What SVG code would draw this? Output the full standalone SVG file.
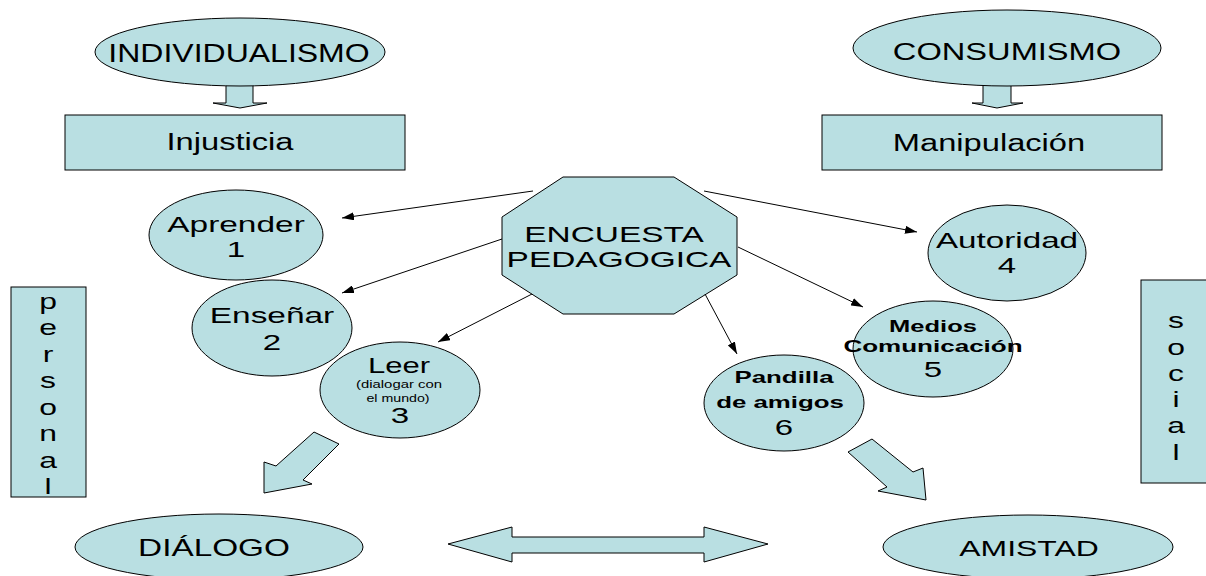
<svg xmlns="http://www.w3.org/2000/svg" width="1206" height="576" viewBox="0 0 1206 576">
<defs>
<style>
.s{fill:#B9DFE2;stroke:#000;stroke-width:1}
.t{font-family:"Liberation Sans",Arial,sans-serif;fill:#000;text-anchor:middle}
.b{font-weight:bold}
.c{stroke:#000;stroke-width:1;fill:none;marker-end:url(#ah)}
</style>
<marker id="ah" markerUnits="userSpaceOnUse" markerWidth="12" markerHeight="8" refX="12" refY="4" orient="auto">
<path d="M0,0 L12,4 L0,8 z" fill="#000"/>
</marker>
</defs>
<rect width="1206" height="576" fill="#fff"/>

<g id="arrow-individualismo"><polygon class="s" points="226,80 253,80 253,103 267,103 240,108 213,103 226,103"/></g>
<g id="arrow-consumismo"><polygon class="s" points="983,80 1011,80 1011,103 1023,103 997,108 972,103 983,103"/></g>

<g id="individualismo">
<ellipse class="s" cx="240" cy="52" rx="145" ry="34"/>
<text class="t" font-size="25" transform="translate(239,62) scale(1.28,1)">INDIVIDUALISMO</text>
</g>
<g id="consumismo">
<ellipse class="s" cx="1007" cy="48" rx="154" ry="38"/>
<text class="t" font-size="24" transform="translate(1007,60) scale(1.36,1)">CONSUMISMO</text>
</g>
<g id="injusticia">
<rect class="s" x="65" y="115" width="340" height="55"/>
<text class="t" font-size="23" transform="translate(230,150) scale(1.42,1)">Injusticia</text>
</g>
<g id="manipulacion">
<rect class="s" x="822" y="115" width="340" height="55"/>
<text class="t" font-size="23" transform="translate(989,151) scale(1.42,1)">Manipulación</text>
</g>

<g id="encuesta">
<polygon class="s" points="563,177 674,177 737,217 737,275 674,314 563,314 502,275 502,217"/>
<text class="t" font-size="22" transform="translate(614,242) scale(1.52,1)">ENCUESTA</text>
<text class="t" font-size="22" transform="translate(619,267) scale(1.52,1)">PEDAGOGICA</text>
</g>

<g id="aprender">
<ellipse class="s" cx="236" cy="235" rx="87" ry="45"/>
<text class="t" font-size="22" transform="translate(236,232) scale(1.52,1)">Aprender</text>
<text class="t" font-size="22" transform="translate(236,257) scale(1.5,1)">1</text>
</g>
<g id="ensenar">
<ellipse class="s" cx="272" cy="328" rx="80" ry="48"/>
<text class="t" font-size="22" transform="translate(272,323) scale(1.52,1)">Enseñar</text>
<text class="t" font-size="22" transform="translate(272,350) scale(1.5,1)">2</text>
</g>
<g id="leer">
<ellipse class="s" cx="400" cy="390" rx="80" ry="48"/>
<text class="t" font-size="22" transform="translate(399,373) scale(1.41,1)">Leer</text>
<text class="t" font-size="10" transform="translate(399,388) scale(1.49,1)">(dialogar con</text>
<text class="t" font-size="10" transform="translate(398,402) scale(1.42,1)">el mundo)</text>
<text class="t" font-size="22" transform="translate(400,423) scale(1.5,1)">3</text>
</g>
<g id="autoridad">
<ellipse class="s" cx="1007" cy="253" rx="79" ry="48"/>
<text class="t" font-size="22" transform="translate(1007,248) scale(1.51,1)">Autoridad</text>
<text class="t" font-size="22" transform="translate(1007,273) scale(1.5,1)">4</text>
</g>
<g id="medios">
<ellipse class="s" cx="933" cy="349" rx="80" ry="48"/>
<text class="t b" font-size="17" transform="translate(933,332) scale(1.5,1)">Medios</text>
<text class="t b" font-size="17" transform="translate(933,352) scale(1.53,1)">Comunicación</text>
<text class="t" font-size="22" transform="translate(933,377) scale(1.5,1)">5</text>
</g>
<g id="pandilla">
<ellipse class="s" cx="784" cy="403" rx="80" ry="48"/>
<text class="t b" font-size="17" transform="translate(784,383) scale(1.52,1)">Pandilla</text>
<text class="t b" font-size="17" transform="translate(780,408) scale(1.52,1)">de amigos</text>
<text class="t" font-size="22" transform="translate(784,435) scale(1.5,1)">6</text>
</g>

<g id="personal">
<rect class="s" x="11" y="287" width="75" height="210"/>
<g class="t" font-size="22">
<text transform="translate(48,309) scale(1.45,1)">p</text>
<text transform="translate(48,335) scale(1.45,1)">e</text>
<text transform="translate(48,362) scale(1.45,1)">r</text>
<text transform="translate(48,388) scale(1.45,1)">s</text>
<text transform="translate(48,415) scale(1.45,1)">o</text>
<text transform="translate(48,441) scale(1.45,1)">n</text>
<text transform="translate(48,468) scale(1.45,1)">a</text>
<text transform="translate(48,494) scale(1.45,1)">l</text>
</g>
</g>
<g id="social">
<rect class="s" x="1141" y="280" width="75" height="203"/>
<g class="t" font-size="22">
<text transform="translate(1176,328) scale(1.45,1)">s</text>
<text transform="translate(1176,355) scale(1.45,1)">o</text>
<text transform="translate(1176,381) scale(1.45,1)">c</text>
<text transform="translate(1176,407) scale(1.45,1)">i</text>
<text transform="translate(1176,433) scale(1.45,1)">a</text>
<text transform="translate(1176,460) scale(1.45,1)">l</text>
</g>
</g>

<g id="arrow-leer-dialogo"><polygon class="s" points="314,432 339,444 303,480 312,484 264,493 264,462 276,466"/></g>
<g id="arrow-pandilla-amistad"><polygon class="s" points="848,452 872,439 913,472 923,468 926,500 878,491 887,487"/></g>
<g id="arrow-double"><polygon class="s" points="448,544 512,527 512,537 704,537 704,527 768,544 704,562 704,553 512,553 512,562"/></g>

<g id="dialogo">
<ellipse class="s" cx="219" cy="547" rx="144" ry="33"/>
<text class="t" font-size="23" transform="translate(214,556) scale(1.45,1)">DIÁLOGO</text>
</g>
<g id="amistad">
<ellipse class="s" cx="1028" cy="547" rx="145" ry="32"/>
<text class="t" font-size="22" transform="translate(1029,556) scale(1.45,1)">AMISTAD</text>
</g>

<g id="connectors">
<line class="c" x1="533" y1="191" x2="342" y2="218"/>
<line class="c" x1="502" y1="239" x2="342" y2="293"/>
<line class="c" x1="532" y1="294" x2="438" y2="342"/>
<line class="c" x1="704" y1="191" x2="917" y2="232"/>
<line class="c" x1="738" y1="247" x2="863" y2="307"/>
<line class="c" x1="705" y1="294" x2="737" y2="354"/>
</g>
</svg>
